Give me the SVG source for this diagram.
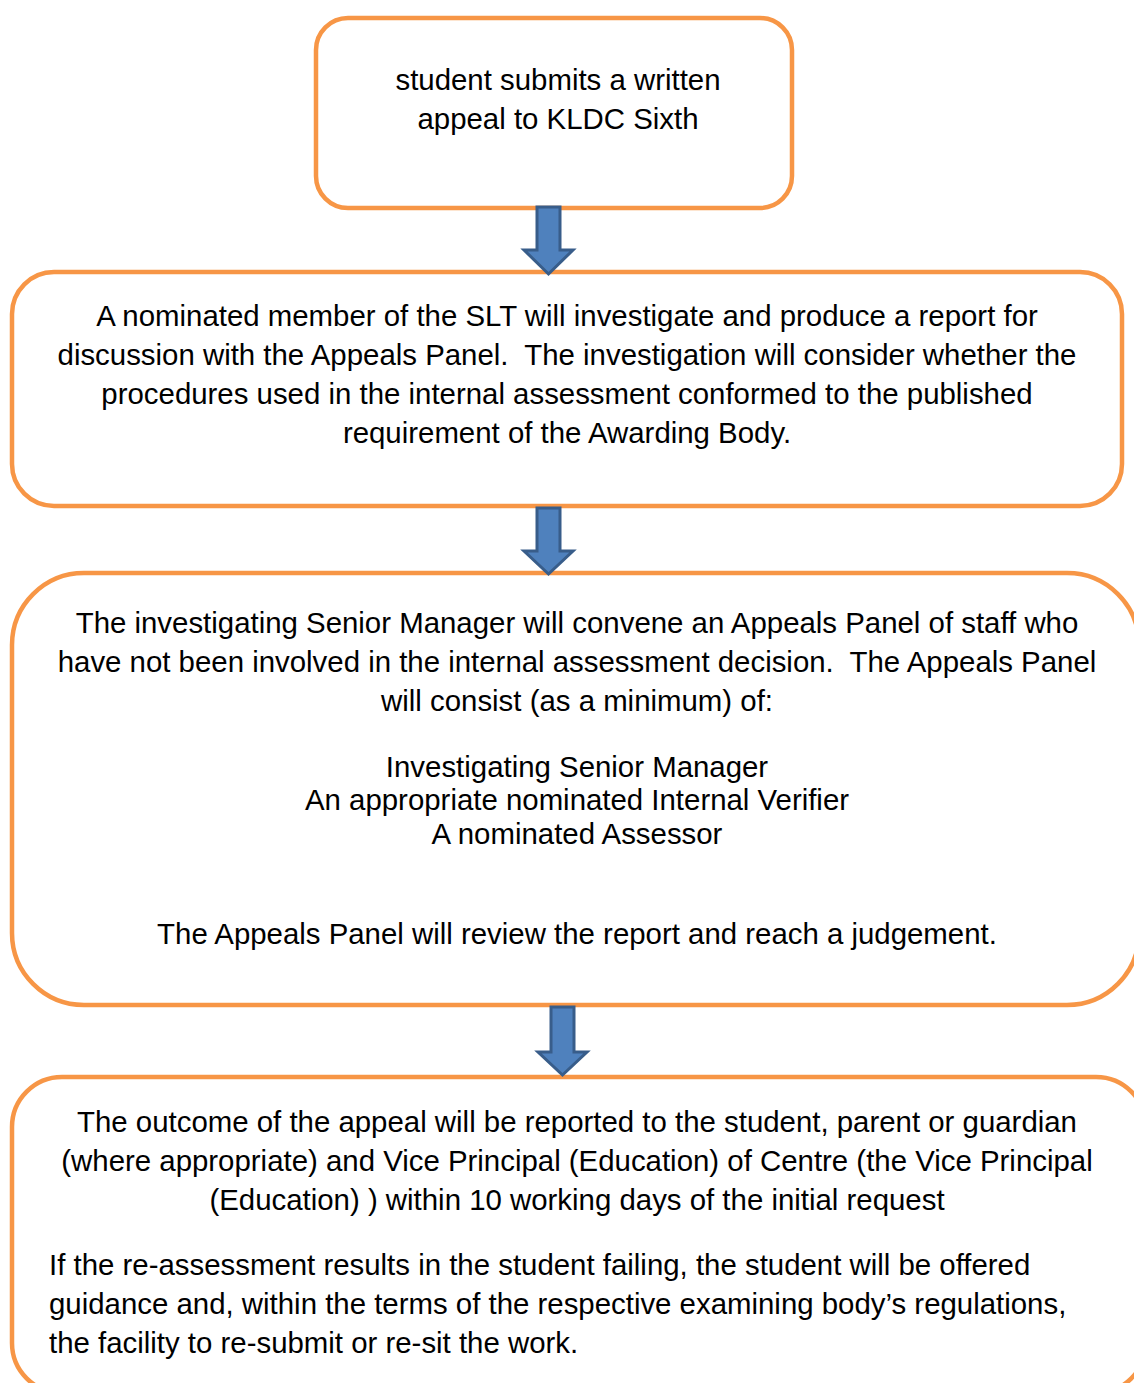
<svg xmlns="http://www.w3.org/2000/svg" width="1134" height="1383" viewBox="0 0 1134 1383">
<style>
.box{fill:#fff;stroke:#F79646;stroke-width:4.5}
.arr{fill:#4F81BD;stroke:#385D8A;stroke-width:3;stroke-linejoin:miter}
text{font-family:"Liberation Sans",Arial,sans-serif;font-size:29.4px;fill:#000}
.c{text-anchor:middle}
</style>
<rect width="1134" height="1383" fill="#fff"/>
<g id="node1">
<rect class="box" x="316" y="18" width="476" height="190" rx="32"/>
<text class="c" x="558" y="90">student submits a written</text>
<text class="c" x="558" y="129">appeal to KLDC Sixth</text>
</g>
<g id="node2">
<rect class="box" x="12" y="272" width="1110" height="234" rx="42"/>
<text class="c" x="567" y="326">A nominated member of the SLT will investigate and produce a report for</text>
<text class="c" x="567" y="365" xml:space="preserve">discussion with the Appeals Panel.  The investigation will consider whether the</text>
<text class="c" x="567" y="404">procedures used in the internal assessment conformed to the published</text>
<text class="c" x="567" y="443">requirement of the Awarding Body.</text>
</g>
<g id="node3">
<rect class="box" x="12" y="573" width="1127" height="432" rx="72"/>
<text class="c" x="577" y="633">The investigating Senior Manager will convene an Appeals Panel of staff who</text>
<text class="c" x="577" y="672" xml:space="preserve">have not been involved in the internal assessment decision.  The Appeals Panel</text>
<text class="c" x="577" y="711">will consist (as a minimum) of:</text>
<text class="c" x="577" y="777">Investigating Senior Manager</text>
<text class="c" x="577" y="810">An appropriate nominated Internal Verifier</text>
<text class="c" x="577" y="844">A nominated Assessor</text>
<text class="c" x="577" y="944">The Appeals Panel will review the report and reach a judgement.</text>
</g>
<g id="node4">
<rect class="box" x="12" y="1077" width="1134" height="316" rx="50"/>
<text class="c" x="577" y="1132">The outcome of the appeal will be reported to the student, parent or guardian</text>
<text class="c" x="577" y="1171">(where appropriate) and Vice Principal (Education) of Centre (the Vice Principal</text>
<text class="c" x="577" y="1210">(Education) ) within 10 working days of the initial request</text>
<text x="49" y="1275">If the re-assessment results in the student failing, the student will be offered</text>
<text x="49" y="1314">guidance and, within the terms of the respective examining body’s regulations,</text>
<text x="49" y="1353">the facility to re-submit or re-sit the work.</text>
</g>
<g id="connectors">
<path class="arr" d="M537 207 H560 V250 H573 L548.5 274 L524 250 H537 Z"/>
<path class="arr" d="M537 508 H560 V551 H573 L548.5 574 L524 551 H537 Z"/>
<path class="arr" d="M551 1007 H574 V1052 H587 L562.5 1075 L538 1052 H551 Z"/>
</g>
</svg>
